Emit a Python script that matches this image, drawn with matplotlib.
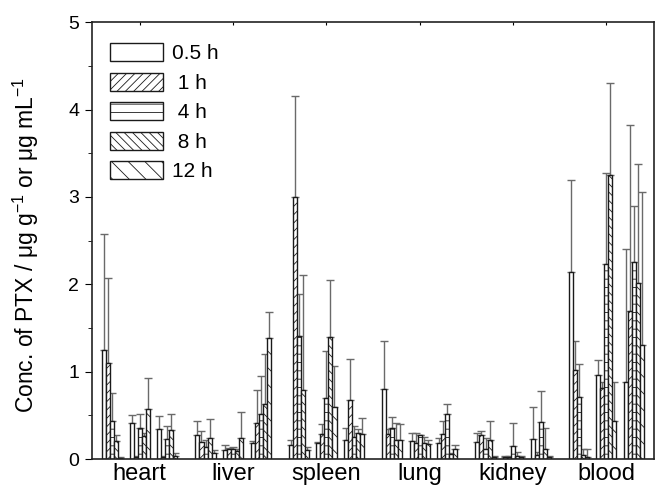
import numpy as np
import matplotlib
matplotlib.use("Agg")
import matplotlib.pyplot as plt
from matplotlib.ticker import MultipleLocator

plt.rcParams['font.family'] = ['Liberation Sans', 'DejaVu Sans']
plt.rcParams['mathtext.fontset'] = 'custom'
plt.rcParams['mathtext.rm'] = 'Liberation Sans'
plt.rcParams['hatch.linewidth'] = 0.6

organs = ["heart", "liver", "spleen", "lung", "kidney", "blood"]
times = ["0.5 h", " 1 h", " 4 h", " 8 h", "12 h"]
n_form = 3

# values ordered: organ x formulation (heart F1,F2,F3, liver F1.. etc.)
mean_05h = [1.25, 0.41, 0.34, 0.27, 0.10, 0.18, 0.16, 0.18, 0.22, 0.80, 0.21, 0.18, 0.19, 0.02, 0.23, 2.14, 0.96, 0.88]
mean_1h  = [1.10, 0.02, 0.02, 0.20, 0.11, 0.41, 3.00, 0.29, 0.67, 0.29, 0.18, 0.29, 0.27, 0.02, 0.05, 1.02, 0.81, 1.69]
mean_4h  = [0.43, 0.36, 0.23, 0.14, 0.12, 0.51, 1.41, 0.70, 0.25, 0.35, 0.27, 0.51, 0.11, 0.15, 0.42, 0.71, 2.23, 2.25]
mean_8h  = [0.21, 0.26, 0.33, 0.24, 0.09, 0.63, 0.79, 1.40, 0.30, 0.22, 0.18, 0.06, 0.22, 0.04, 0.12, 0.05, 3.25, 2.01]
mean_12h = [0.015, 0.57, 0.03, 0.065, 0.24, 1.38, 0.10, 0.60, 0.29, 0.22, 0.17, 0.11, 0.02, 0.02, 0.02, 0.02, 0.43, 1.30]

sd_05h = [1.33, 0.09, 0.15, 0.16, 0.06, 0.03, 0.06, 0.02, 0.14, 0.55, 0.09, 0.06, 0.11, 0.02, 0.37, 1.05, 0.17, 1.52]
sd_1h  = [0.97, 0.01, 0.01, 0.12, 0.02, 0.38, 1.16, 0.11, 0.48, 0.05, 0.12, 0.14, 0.05, 0.02, 0.03, 0.33, 0.07, 2.13]
sd_4h  = [0.33, 0.15, 0.15, 0.08, 0.02, 0.44, 0.48, 0.54, 0.13, 0.13, 0.01, 0.12, 0.13, 0.26, 0.36, 0.38, 1.04, 0.65]
sd_8h  = [0.06, 0.04, 0.18, 0.22, 0.03, 0.57, 1.32, 0.65, 0.04, 0.19, 0.07, 0.01, 0.22, 0.04, 0.23, 0.07, 1.05, 1.37]
sd_12h = [0.01, 0.36, 0.04, 0.04, 0.30, 0.30, 0.04, 0.47, 0.18, 0.18, 0.05, 0.05, 0.02, 0.01, 0.02, 0.10, 0.45, 1.76]

means = [mean_05h, mean_1h, mean_4h, mean_8h, mean_12h]
sds = [sd_05h, sd_1h, sd_4h, sd_8h, sd_12h]
hatches = ['', '////', '--', '\\\\\\\\', '\\\\']

fig = plt.figure(figsize=(6.6, 4.92), dpi=100)
ax = fig.add_axes([0.139, 0.067, 0.852, 0.888])

bar_w = 0.043
group_pitch = 0.296
base = np.repeat(np.arange(len(organs)), n_form) + np.tile((np.arange(n_form) - 1) * group_pitch, len(organs))

for k in range(len(times)):
    x = base + (k - 2) * bar_w
    m = np.array(means[k])
    s = np.array(sds[k])
    ax.errorbar(x, m, yerr=[np.zeros_like(s), s], fmt='none', ecolor='#6a6a6a',
                elinewidth=1.0, capsize=3, capthick=1.0, zorder=1)
    ax.bar(x, m, width=bar_w, color='white', edgecolor='#1a1a1a', linewidth=1.0,
           hatch=hatches[k], label=times[k], zorder=2)

ax.set_xlim(-0.515, 5.51)
ax.set_ylim(0, 5)
ax.set_xticks(np.arange(len(organs)))
ax.set_xticklabels(organs, fontsize=17)
ax.tick_params(axis='x', which='both', length=2, direction='in', top=True, bottom=False, pad=3)
ax.yaxis.set_major_locator(MultipleLocator(1))
ax.yaxis.set_minor_locator(MultipleLocator(0.5))
ax.tick_params(axis='y', which='major', length=5, direction='out', labelsize=14, right=False, pad=4)
ax.tick_params(axis='y', which='minor', length=3, direction='out')
ax.set_ylabel(r"Conc. of PTX / μg g$^{\mathrm{-1}}$ or μg mL$^{\mathrm{-1}}$", fontsize=16.5)
ax.yaxis.set_label_coords(-0.09, 0.49)
for sp in ax.spines.values():
    sp.set_linewidth(1.2)
    sp.set_color('#222222')

leg = ax.legend(loc='upper left', bbox_to_anchor=(0.0, 0.995), frameon=False,
                fontsize=15, handlelength=2.5, handleheight=0.95, labelspacing=0.45,
                handletextpad=0.45)

fig.savefig("out.png", dpi=100)
